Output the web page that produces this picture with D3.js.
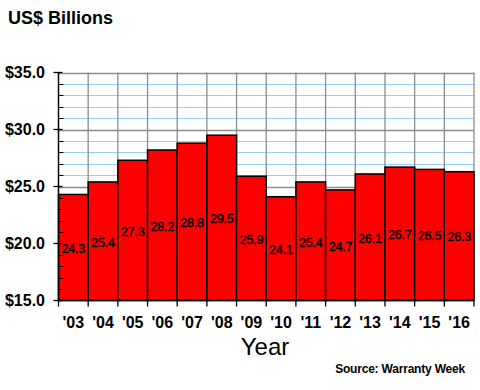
<!DOCTYPE html>
<html><head><meta charset="utf-8">
<script src="https://cdn.jsdelivr.net/npm/d3@7"></script>
<style>body{margin:0;background:#fff;}svg{display:block;font-family:Arial,"Liberation Sans",sans-serif;}</style>
</head><body>
<script>
const years = ["'03","'04","'05","'06","'07","'08","'09","'10","'11","'12","'13","'14","'15","'16"];
const values = [24.3,25.4,27.3,28.2,28.8,29.5,25.9,24.1,25.4,24.7,26.1,26.7,26.5,26.3];
const yMajorTicks = [15,20,25,30,35];

const W=480,H=390;
const L=58.5,R=474,T=72.5,B=300.5;
const svg=d3.select("body").append("svg").attr("width",W).attr("height",H);

const x=d3.scaleBand().domain(years).range([L,R]).padding(0);
const y=d3.scaleLinear().domain([15,35]).range([B,T]);

// minor gridlines (light blue)
const minor=d3.range(15,35.01,1).filter(v=>v%5!==0);
svg.append("g").selectAll("line").data(minor).join("line")
  .attr("x1",L).attr("x2",R).attr("y1",d=>Math.round(y(d))+0.5).attr("y2",d=>Math.round(y(d))+0.5)
  .attr("stroke","#99ccff").attr("stroke-width",1);
// major gridlines (gray)
svg.append("g").selectAll("line").data(yMajorTicks.filter(v=>v>15)).join("line")
  .attr("x1",L).attr("x2",R).attr("y1",d=>Math.round(y(d))+0.5).attr("y2",d=>Math.round(y(d))+0.5)
  .attr("stroke","#8c8c8c").attr("stroke-width",1.3);
// vertical gridlines at band edges
const edges=years.map(d=>x(d)).concat([R]).slice(1);
svg.append("g").selectAll("line").data(edges).join("line")
  .attr("x1",d=>d).attr("x2",d=>d).attr("y1",T).attr("y2",B)
  .attr("stroke","#8c8c8c").attr("stroke-width",1.3);

// bars
svg.append("g").selectAll("rect").data(values).join("rect")
  .attr("x",(d,i)=>x(years[i])).attr("width",x.bandwidth())
  .attr("y",d=>y(d)).attr("height",d=>B-y(d))
  .attr("fill","#ff0000").attr("stroke","#000").attr("stroke-width",1.5);

// value labels
svg.append("g").selectAll("text").data(values).join("text")
  .attr("x",(d,i)=>x(years[i])+x.bandwidth()/2)
  .attr("y",d=>y((d+15)/2)+1)
  .attr("dy","0.35em").attr("text-anchor","middle")
  .attr("font-size",12.5).attr("fill","#000").attr("stroke","#000").attr("stroke-width",0.4)
  .style("letter-spacing","-0.2px")
  .text(d=>d.toFixed(1));

// y axis
const yAxis=svg.append("g");
yAxis.append("line").attr("x1",L).attr("x2",L).attr("y1",T).attr("y2",B).attr("stroke","#000").attr("stroke-width",1.5);
yAxis.selectAll(".mj").data(yMajorTicks).join("line")
  .attr("x1",L-5).attr("x2",L+4).attr("y1",d=>y(d)).attr("y2",d=>y(d)).attr("stroke","#000").attr("stroke-width",1.3);
yAxis.selectAll(".mn").data(minor).join("line")
  .attr("x1",L).attr("x2",L+5).attr("y1",d=>Math.round(y(d))+0.5).attr("y2",d=>Math.round(y(d))+0.5).attr("stroke","#000").attr("stroke-width",1);
yAxis.selectAll("text").data(yMajorTicks).join("text")
  .attr("x",45).attr("y",d=>y(d)).attr("dy","0.36em").attr("text-anchor","end")
  .attr("font-size",16).attr("font-weight","bold").text(d=>"$"+d.toFixed(1));

// x axis
const xAxis=svg.append("g");
xAxis.append("line").attr("x1",L).attr("x2",R).attr("y1",B).attr("y2",B).attr("stroke","#000").attr("stroke-width",1.5);
xAxis.selectAll("line.t").data([L].concat(edges)).join("line")
  .attr("x1",d=>d).attr("x2",d=>d).attr("y1",B).attr("y2",B+6).attr("stroke","#000").attr("stroke-width",1.3);
xAxis.selectAll("text").data(years).join("text")
  .attr("x",d=>x(d)+x.bandwidth()/2).attr("y",328).attr("text-anchor","middle")
  .attr("font-size",16).attr("font-weight","bold").text(d=>d);

// titles
svg.append("text").attr("x",8).attr("y",24).attr("font-size",18).attr("font-weight","bold").text("US$ Billions");
svg.append("text").attr("x",265).attr("y",355).attr("text-anchor","middle").attr("font-size",24).text("Year");
svg.append("text").attr("x",465).attr("y",373).attr("text-anchor","end").attr("font-size",12).attr("font-weight","bold").style("letter-spacing","-0.2px").text("Source: Warranty Week");
</script>
</body></html>
